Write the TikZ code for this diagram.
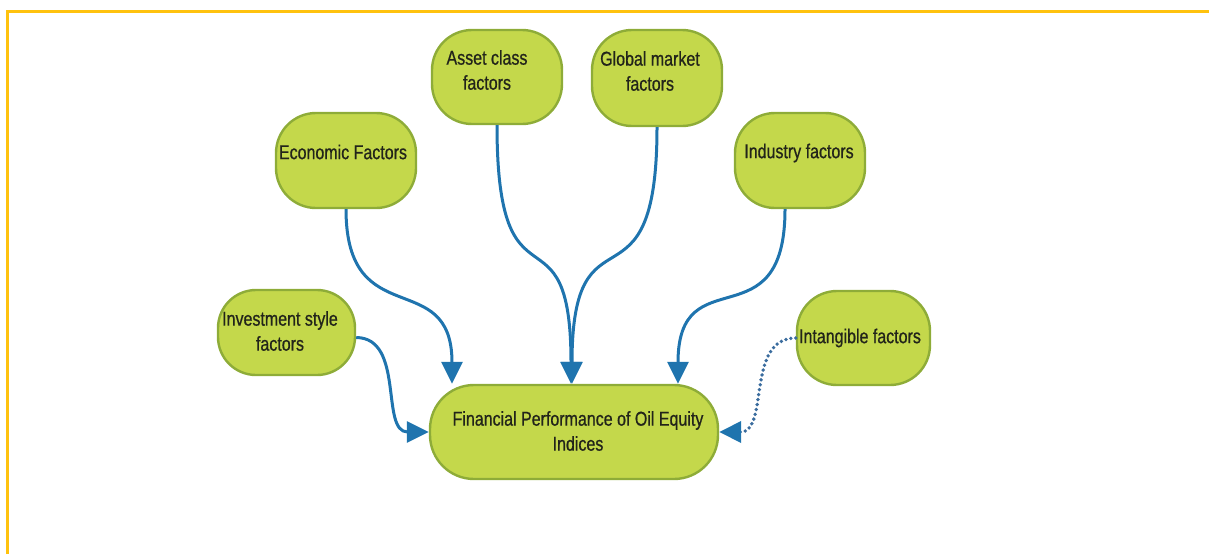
\documentclass[tikz,border=0pt]{standalone}
\usepackage{fontspec}
\setmainfont{Liberation Sans}[FakeStretch=0.8,FakeBold=0.7]
\usetikzlibrary{arrows.meta}
\definecolor{boxfill}{HTML}{C4D84B}
\definecolor{boxline}{HTML}{8EAC38}
\definecolor{textcol}{HTML}{22241A}
\definecolor{arrowblue}{HTML}{1F74AE}
\definecolor{dotblue}{HTML}{3A6C9E}
\definecolor{framecol}{HTML}{FFC20E}
\begin{document}
\begin{tikzpicture}[x=1pt,y=-1pt,
  factorbox/.style={draw=boxline, fill=boxfill, line width=2.4pt, rounded corners=40pt, inner sep=0pt},
  lbl/.style={align=center, text=textcol, font=\fontsize{20}{25}\selectfont, inner sep=0pt},
  flow/.style={draw=arrowblue, line width=3pt, -{Triangle[width=21pt,length=22pt]}},
  dotflow/.style={draw=dotblue, line width=3.8pt, line cap=round, dash pattern=on 0pt off 5pt, -{Triangle[width=21pt,length=22pt,fill=arrowblue,color=arrowblue,line cap=butt]}}]
\useasboundingbox (0,0) rectangle (1209,554);
% frame (top and left edges only)
\draw[framecol, line width=3pt] (7,554) -- (7,11) -- (1209,11);

% boxes
\node[factorbox, minimum width=130pt, minimum height=94pt] (asset) at (497,77) {};
\node[factorbox, minimum width=130pt, minimum height=96pt] (global) at (657,78) {};
\node[factorbox, minimum width=140pt, minimum height=95pt] (econ) at (346,160.5) {};
\node[factorbox, minimum width=130pt, minimum height=95pt] (ind) at (800,160.5) {};
\node[factorbox, minimum width=137pt, minimum height=85pt, rounded corners=38pt] (inv) at (286.5,332.5) {};
\node[factorbox, minimum width=133pt, minimum height=94pt] (intang) at (863.5,338) {};
\node[factorbox, minimum width=288pt, minimum height=94pt, rounded corners=44pt] (main) at (574,432) {};

% labels
\node[lbl] (assetT) at (487,70) {Asset class\\factors};
\node[lbl] (globalT) at (650,71) {Global market\\factors};
\node[lbl] (econT) at (343,152) {Economic Factors};
\node[lbl] (indT) at (799,153) {Industry factors};
\node[lbl] (invT) at (280,331) {Investment style\\factors};
\node[lbl] (intangT) at (860,338) {Intangible factors};
\node[lbl] (mainT) at (578,431) {Financial Performance of Oil Equity\\Indices};

% connectors
\draw[flow] (econ.south) .. controls (346,335) and (452,265) .. ([xshift=-122pt]main.north);
\draw[flow] (asset.south) .. controls (497,325) and (571,195) .. ([xshift=-3pt]main.north);
\draw[flow] (global.south) .. controls (657,325) and (572,195) .. ([xshift=-2pt]main.north);
\draw[flow] ([xshift=-15pt]ind.south) .. controls (785,345) and (678,255) .. ([xshift=104pt]main.north);
\draw[flow] ([yshift=-5pt]inv.east) .. controls (405,338) and (380,432) .. (main.west);
\draw[dotflow] (intang.west) .. controls (745,338) and (770,432) .. (main.east);
\end{tikzpicture}
\end{document}
